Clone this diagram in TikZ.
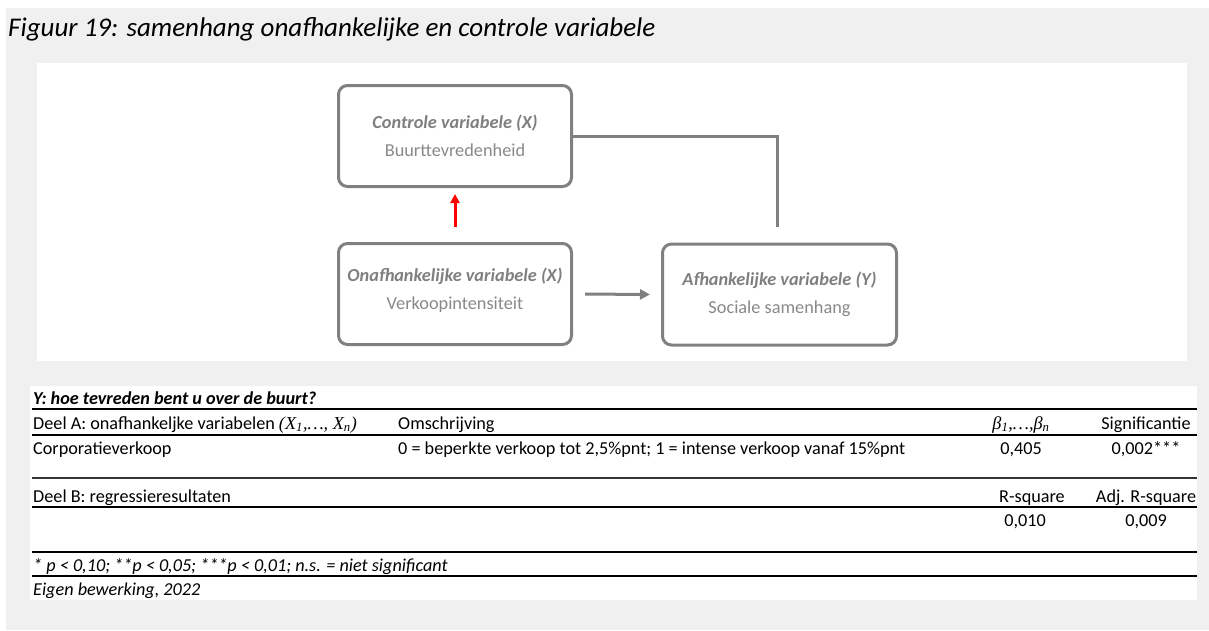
\documentclass[tikz,border=0pt]{standalone}
\usepackage{fontspec}
\setmainfont{Carlito}
\newfontfamily\mathlike{Liberation Serif}
\usetikzlibrary{arrows.meta}
\definecolor{panelgray}{RGB}{240,240,240}
\definecolor{boxgray}{RGB}{128,128,128}
\definecolor{txtgray}{RGB}{127,127,127}
\definecolor{txtlight}{RGB}{137,137,137}
\definecolor{arrowred}{RGB}{255,0,0}
\tikzset{
  varbox/.style={draw=boxgray, line width=3pt, rounded corners=9pt, fill=white,
    minimum width=233pt, minimum height=101pt, inner sep=0pt, align=center,
    font=\fontsize{18.3}{28}\selectfont, text=txtlight},
  conn/.style={draw=boxgray, line width=3pt},
  garrow/.style={conn, -{Triangle[length=10pt,width=10pt]}},
  rarrow/.style={draw=arrowred, line width=3pt, -{Triangle[length=9pt,width=9pt]}},
  tcell/.style={anchor=base west, inner sep=0pt, font=\fontsize{18.2}{20}\selectfont},
  tnum/.style={anchor=base, inner sep=0pt, font=\fontsize{18.2}{20}\selectfont},
  thick rule/.style={draw=black, line width=2.2pt},
  thin rule/.style={draw=black!80, line width=1.8pt},
}
\begin{document}
\begin{tikzpicture}[x=1pt,y=-1pt]
\useasboundingbox (0,0) rectangle (1209,630);
% background panels
\fill[panelgray] (6,8) rectangle (1209,630);
\fill[white] (37,63) rectangle (1187,361);
\fill[white] (30,386) rectangle (1197,600);
% title
\node[anchor=base west, inner sep=0pt, font=\fontsize{27}{30}\selectfont\itshape] (title) at (8,36)
  {Figuur 19: samenhang onafhankelijke en controle variabele};
% diagram boxes
\node[varbox] (ctrl) at (455,136)
  {\textcolor{txtgray}{\bfseries\itshape Controle variabele (X)}\\Buurttevredenheid};
\node[varbox] (onaf) at (455,294)
  {\textcolor{txtgray}{\bfseries\itshape Onafhankelijke variabele (X)}\\Verkoopintensiteit\\[-18pt]\mbox{}};
\node[varbox, minimum width=234pt] (afh) at (779.5,294.5)
  {\textcolor{txtgray}{\bfseries\itshape Afhankelijke variabele (Y)}\\Sociale samenhang};
% connectors
\coordinate (ctrlend) at (777,227);
\draw[conn] (ctrl.east) -| (ctrlend);
\draw[garrow, shorten <=12pt, shorten >=11pt] (onaf.east) -- (afh.west);
\coordinate (redstart) at (455,227);
\draw[rarrow, shorten >=6pt] (redstart) -- (ctrl.south);
% table
\node[tcell, font=\fontsize{18.2}{20}\selectfont\bfseries\itshape] (yq) at (33,404) {Y: hoe tevreden bent u over de buurt?};
\draw[thick rule] (32,409) -- (1197,409);
\node[tcell] (deela) at (33,429) {Deel A: onafhankeljke variabelen {\mathlike\itshape (X\textsubscript{1},…, X\textsubscript{n})}};
\node[tcell] (omschr) at (398,429) {Omschrijving};
\node[tnum] (beta) at (1021,429) {{\mathlike\itshape β\textsubscript{1},…,β\textsubscript{n}}};
\node[tnum] (sig) at (1146,429) {Significantie};
\draw[thick rule] (32,435) -- (1197,435);
\node[tcell] (corp) at (33,454) {Corporatieverkoop};
\node[tcell] (corpdesc) at (398,454) {0 = beperkte verkoop tot 2,5\%pnt; 1 = intense verkoop vanaf 15\%pnt};
\node[tnum] (corpb) at (1021,454) {0,405};
\node[tnum] (corps) at (1146,454) {0,002***};
\draw[thin rule] (32,478) -- (1197,478);
\node[tcell] (deelb) at (33,502) {Deel B: regressieresultaten};
\node[tnum] (rsq) at (1032,502) {R-square};
\node[tnum] (adjrsq) at (1146,502) {Adj. R-square};
\draw[thick rule] (32,507) -- (1197,507);
\node[tnum] (rsqv) at (1025,526) {0,010};
\node[tnum] (adjv) at (1146,526) {0,009};
\draw[thick rule] (32,552) -- (1197,552);
\node[tcell, font=\fontsize{18.2}{20}\selectfont\itshape] (pnote) at (33,571) {* p < 0,10; **p < 0,05; ***p < 0,01; n.s. = niet significant};
\draw[thick rule] (32,576) -- (1197,576);
\node[tcell, font=\fontsize{18.2}{20}\selectfont\itshape] (src) at (33,595) {Eigen bewerking, 2022};
\end{tikzpicture}
\end{document}
